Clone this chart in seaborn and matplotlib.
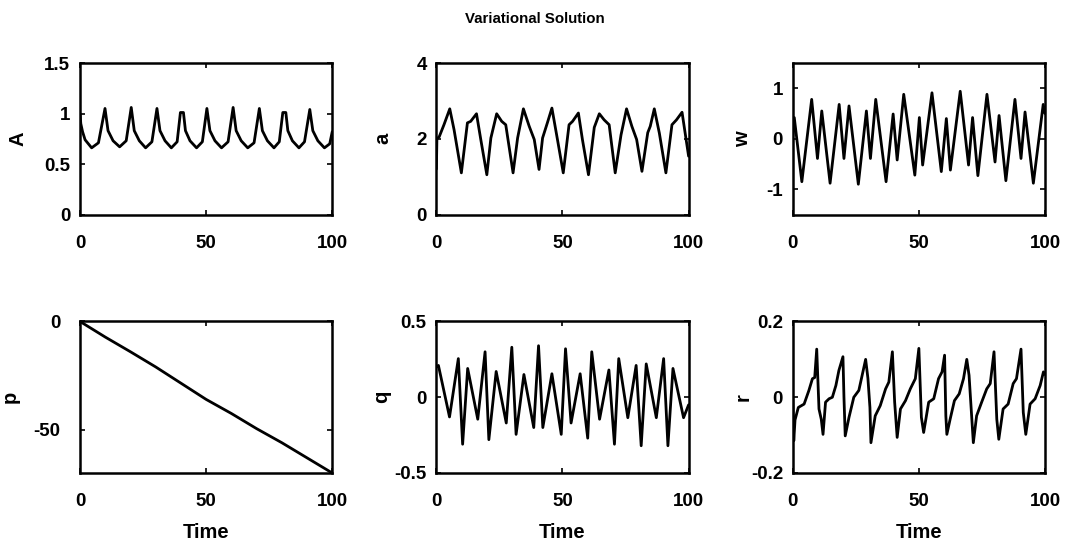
import matplotlib
matplotlib.use("Agg")
import matplotlib.pyplot as plt
import seaborn as sns

# ---------------- data ----------------
A_t = [0, 0.3, 1.0, 2.0, 4.6, 7.3, 9.9, 11.1, 13.1, 15.7, 18.3, 20.3, 21.5, 23.5, 26.0, 28.5,
       30.5, 31.7, 33.7, 36.2, 38.5, 39.8, 41.0, 41.8, 43.6, 46.2, 48.5, 50.3, 51.5, 53.5, 56.1,
       58.7, 60.7, 61.9, 63.9, 66.5, 69.0, 71.1, 72.3, 74.3, 76.9, 79.0, 80.4, 81.6, 82.4, 84.2,
       86.8, 89.0, 91.1, 92.3, 94.3, 96.9, 99.0, 100]
A_y = [1.0, 0.9, 0.82, 0.74, 0.66, 0.71, 1.05, 0.83, 0.73, 0.67, 0.73, 1.06, 0.83, 0.73, 0.66, 0.72,
       1.05, 0.83, 0.73, 0.66, 0.72, 1.01, 1.01, 0.83, 0.73, 0.66, 0.72, 1.05, 0.83, 0.73, 0.66,
       0.72, 1.06, 0.83, 0.73, 0.66, 0.71, 1.05, 0.83, 0.73, 0.66, 0.72, 1.01, 1.01, 0.83, 0.73,
       0.66, 0.72, 1.04, 0.83, 0.73, 0.66, 0.70, 0.82]

a_t = [0, 0.2, 1.1, 3.0, 5.3, 7.0, 9.9, 12.3, 13.6, 15.9, 17.6, 20.0, 21.6, 23.9, 25.9, 27.5,
       30.4, 32.2, 34.5, 36.8, 38.8, 40.7, 42.1, 44.0, 45.8, 48.0, 50.3, 52.6, 54.0, 56.3, 57.9,
       60.3, 62.6, 64.6, 66.5, 68.5, 70.9, 73.2, 75.4, 77.5, 79.4, 81.5, 83.8, 84.8, 86.4, 88.4,
       91.0, 93.4, 95.2, 97.4, 100]
a_y = [1.2, 2.0, 2.05, 2.37, 2.79, 2.24, 1.10, 2.42, 2.46, 2.66, 1.98, 1.05, 2.02, 2.66, 2.46, 2.37,
       1.10, 2.02, 2.79, 2.33, 1.98, 1.19, 2.02, 2.42, 2.81, 1.98, 1.10, 2.37, 2.46, 2.68, 1.98,
       1.05, 2.3, 2.66, 2.5, 2.37, 1.10, 2.1, 2.79, 2.33, 1.98, 1.14, 2.16, 2.33, 2.79, 2.15,
       1.10, 2.37, 2.5, 2.70, 1.54]

w_t = [0, 0.6, 3.6, 7.5, 9.8, 11.5, 14.8, 18.4, 20.3, 22.3, 26.0, 29.2, 30.8, 32.9, 37.0, 39.8,
       41.4, 44.0, 48.4, 50.2, 51.5, 55.2, 58.9, 60.9, 62.5, 66.4, 69.7, 71.3, 73.4, 77.0, 80.2,
       81.8, 84.5, 88.1, 90.5, 92.1, 95.4, 99.3, 100]
w_y = [0.05, 0.42, -0.85, 0.78, -0.39, 0.55, -0.88, 0.68, -0.39, 0.65, -0.9, 0.55, -0.39, 0.78,
       -0.85, 0.49, -0.42, 0.88, -0.72, 0.42, -0.52, 0.91, -0.65, 0.40, -0.62, 0.94, -0.52, 0.42,
       -0.73, 0.88, -0.46, 0.46, -0.83, 0.78, -0.39, 0.53, -0.88, 0.68, 0.5]

p_t = [0, 10, 20, 30, 40, 50, 60, 70, 80, 90, 100]
p_y = [0, -7.2, -14, -21, -28.5, -36, -42.5, -49.5, -56, -63, -70]

q_t = [0, 0.8, 5.2, 8.7, 10.4, 12.4, 16.4, 19.3, 20.8, 23.7, 27.7, 29.9, 31.6, 34.7, 38.6, 40.5,
       42.2, 45.8, 49.5, 51.2, 53.4, 57.0, 60.0, 61.6, 64.7, 68.4, 70.6, 72.3, 75.9, 79.2, 81.2,
       83.2, 87.2, 90.1, 91.8, 93.8, 98.0, 100]
q_y = [0.2, 0.21, -0.13, 0.255, -0.31, 0.19, -0.145, 0.30, -0.28, 0.17, -0.17, 0.33, -0.245, 0.15,
       -0.20, 0.34, -0.20, 0.155, -0.245, 0.32, -0.17, 0.155, -0.27, 0.30, -0.145, 0.18, -0.31,
       0.255, -0.135, 0.21, -0.32, 0.22, -0.135, 0.255, -0.32, 0.19, -0.135, -0.05]

r_t = [0, 0.4, 0.9, 2.2, 4.5, 6.4, 7.8, 8.7, 9.5, 10.4, 11.3, 12.0, 13.0, 14.4, 15.7, 17.1, 18.3,
       19.9, 20.3, 20.8, 22.3, 24.2, 26.2, 28.9, 29.8, 30.6, 31.0, 32.7, 34.7, 36.8, 38.1, 39.5,
       40.4, 41.4, 42.7, 44.7, 46.6, 48.6, 50.0, 51.0, 51.9, 53.9, 55.9, 57.8, 59.2, 60.2, 60.7,
       61.1, 62.4, 64.1, 66.0, 67.7, 69.0, 69.9, 71.6, 72.9, 74.9, 76.9, 78.3, 79.8, 80.9, 81.7,
       83.4, 85.4, 87.4, 88.7, 90.5, 91.4, 92.4, 94.1, 96.1, 98.1, 99.4, 100]
r_y = [0.0, -0.115, -0.06, -0.027, -0.018, 0.018, 0.049, 0.052, 0.127, -0.031, -0.058, -0.098,
       -0.013, -0.004, 0.0, 0.031, 0.071, 0.107, 0.0, -0.102, -0.053, 0.0, 0.018, 0.10, 0.05,
       -0.027, -0.12, -0.049, -0.022, 0.022, 0.04, 0.12, -0.013, -0.106, -0.031, -0.009, 0.022,
       0.049, 0.129, -0.053, -0.093, -0.013, -0.004, 0.049, 0.067, 0.111, -0.049, -0.098, -0.058,
       -0.009, 0.009, 0.049, 0.10, 0.058, -0.12, -0.049, -0.013, 0.022, 0.036, 0.12, -0.058,
       -0.111, -0.031, -0.018, 0.036, 0.049, 0.127, -0.04, -0.098, -0.018, -0.004, 0.031, 0.067,
       0.06]

title_text = "Variational Solution"
x_ticks = [0, 50, 100]
x_tick_labels = ["0", "50", "100"]
panels = [
    ("A", A_t, A_y, [0, 0.5, 1, 1.5], ["0", "0.5", "1", "1.5"], (0, 1.5)),
    ("a", a_t, a_y, [0, 2, 4], ["0", "2", "4"], (0, 4)),
    ("w", w_t, w_y, [-1, 0, 1], ["-1", "0", "1"], (-1.5, 1.5)),
    ("p", p_t, p_y, [-50, 0], ["-50", "0"], (-70, 0)),
    ("q", q_t, q_y, [-0.5, 0, 0.5], ["-0.5", "0", "0.5"], (-0.5, 0.5)),
    ("r", r_t, r_y, [-0.2, 0, 0.2], ["-0.2", "0", "0.2"], (-0.2, 0.2)),
]
ylabel_x = [-0.21, -0.175, -0.16, -0.238, -0.179, -0.16]
ytick_pad = [7, 7, 7, 14, 7, 7]

# ---------------- style ----------------
sns.set_theme(style="white")
plt.rcParams["font.family"] = ["Liberation Sans", "DejaVu Sans"]
plt.rcParams["font.weight"] = "bold"
plt.rcParams["axes.labelweight"] = "bold"

fig, axes = plt.subplots(2, 3, figsize=(10.7, 5.46), dpi=100)
fig.subplots_adjust(left=0.0748, right=0.9766, top=0.8846, bottom=0.1337,
                    wspace=0.413, hspace=0.706)

for i, (ax, (lab, t, y, yt, ytl, ylim)) in enumerate(zip(axes.flat, panels)):
    sns.lineplot(x=t, y=y, ax=ax, color="black", linewidth=2.0,
                 estimator=None, sort=False)
    ax.set_xlim(0, 100)
    ax.set_ylim(*ylim)
    ax.set_xticks(x_ticks)
    ax.set_xticklabels(x_tick_labels)
    ax.set_yticks(yt)
    ax.set_yticklabels(ytl)
    for s in ax.spines.values():
        s.set_visible(True)
        s.set_color("black")
        s.set_linewidth(1.8)
    ax.tick_params(axis="both", which="both", direction="in", length=3.5, width=1.2,
                   top=True, right=True, bottom=True, left=True,
                   labelsize=13.5, colors="black")
    ax.tick_params(axis="x", pad=14.5)
    ax.tick_params(axis="y", pad=ytick_pad[i])
    for tl in ax.get_xticklabels() + ax.get_yticklabels():
        tl.set_fontweight("bold")
    ax.set_ylabel(lab, fontsize=14.5, fontweight="bold", color="black")
    ax.yaxis.set_label_coords(ylabel_x[i], 0.5)
    if i >= 3:
        ax.set_xlabel("Time", fontsize=14.5, fontweight="bold", color="black")
        ax.xaxis.set_label_coords(0.5, -0.33)
    else:
        ax.set_xlabel("")
    ax.set_facecolor("white")

fig.text(0.5, 0.966, title_text, ha="center", va="center", fontsize=10.8,
         fontweight="bold", color="black")

fig.savefig("out.png", dpi=100, facecolor="white")
